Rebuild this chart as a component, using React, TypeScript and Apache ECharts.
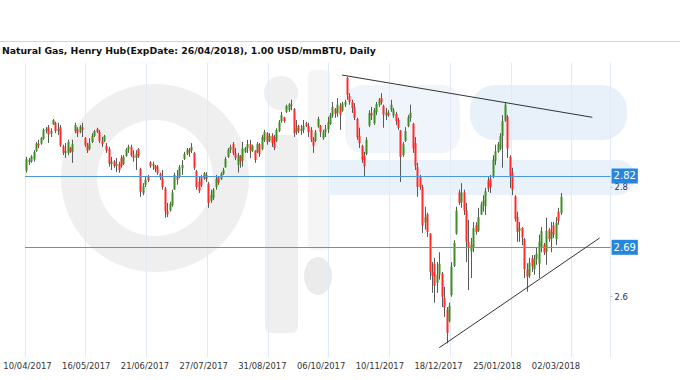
import React, { useEffect, useRef } from 'react';
import * as echarts from 'echarts';

const TITLE = 'Natural Gas, Henry Hub(ExpDate: 26/04/2018), 1.00 USD/mmBTU, Daily';

const tickLabels = [
  '10/04/2017', '16/05/2017', '21/06/2017', '27/07/2017', '31/08/2017',
  '06/10/2017', '10/11/2017', '18/12/2017', '25/01/2018', '02/03/2018',
];

const yTickValues = [2.6, 2.8];

// exchange holidays (no session)
const holidays = [
  '2017-04-14', '2017-05-29', '2017-07-04', '2017-09-04', '2017-11-23',
  '2017-12-25', '2018-01-01', '2018-01-15', '2018-02-19', '2018-03-30',
];
const FIRST_DAY = '2017-04-10';
const SLOT_COUNT = 241; // sessions on the axis, incl. the empty space after the last candle

const levels = [2.82, 2.69];
// trend lines: [session index, price]
const resistanceLine = [[130, 3.004], [233.3, 2.927]];
const supportLine = [[170.4, 2.507], [236.2, 2.707]];

// [open, close, low, high]
const candles: number[][] = [
  [2.830, 2.851, 2.826, 2.855], [2.846, 2.849, 2.840, 2.853], [2.846, 2.856, 2.844, 2.858], [2.850, 2.864, 2.846, 2.867],
  [2.866, 2.879, 2.864, 2.882], [2.879, 2.876, 2.871, 2.886], [2.879, 2.889, 2.877, 2.891], [2.888, 2.904, 2.886, 2.907],
  [2.903, 2.906, 2.898, 2.909], [2.909, 2.896, 2.880, 2.913], [2.897, 2.902, 2.891, 2.907], [2.914, 2.922, 2.913, 2.924],
  [2.917, 2.902, 2.898, 2.919], [2.902, 2.906, 2.895, 2.917], [2.909, 2.876, 2.873, 2.913], [2.874, 2.862, 2.858, 2.877],
  [2.862, 2.866, 2.853, 2.880], [2.862, 2.882, 2.858, 2.886], [2.871, 2.864, 2.862, 2.873], [2.864, 2.878, 2.844, 2.886],
  [2.902, 2.913, 2.898, 2.917], [2.906, 2.898, 2.891, 2.909], [2.900, 2.910, 2.898, 2.913], [2.909, 2.904, 2.891, 2.917],
  [2.889, 2.876, 2.873, 2.891], [2.875, 2.866, 2.862, 2.880], [2.869, 2.880, 2.867, 2.889], [2.882, 2.893, 2.880, 2.898],
  [2.893, 2.902, 2.891, 2.904], [2.906, 2.900, 2.898, 2.908], [2.900, 2.884, 2.880, 2.904], [2.884, 2.878, 2.873, 2.891],
  [2.884, 2.893, 2.882, 2.895], [2.875, 2.866, 2.862, 2.880], [2.869, 2.842, 2.837, 2.873], [2.842, 2.846, 2.831, 2.855],
  [2.847, 2.838, 2.835, 2.849], [2.838, 2.842, 2.827, 2.853], [2.842, 2.831, 2.826, 2.846], [2.853, 2.838, 2.835, 2.858],
  [2.842, 2.855, 2.840, 2.858], [2.857, 2.868, 2.855, 2.871], [2.868, 2.873, 2.862, 2.877], [2.873, 2.858, 2.855, 2.877],
  [2.858, 2.853, 2.846, 2.867], [2.853, 2.860, 2.831, 2.867], [2.869, 2.856, 2.853, 2.871], [2.833, 2.791, 2.782, 2.835],
  [2.788, 2.802, 2.785, 2.807], [2.804, 2.813, 2.800, 2.818], [2.820, 2.812, 2.809, 2.822], [2.845, 2.838, 2.835, 2.847],
  [2.838, 2.842, 2.831, 2.846], [2.838, 2.833, 2.827, 2.840], [2.837, 2.826, 2.822, 2.840], [2.824, 2.817, 2.813, 2.826],
  [2.817, 2.800, 2.795, 2.831], [2.797, 2.756, 2.744, 2.800], [2.756, 2.750, 2.745, 2.771], [2.757, 2.769, 2.755, 2.773],
  [2.767, 2.790, 2.764, 2.795], [2.795, 2.822, 2.795, 2.826], [2.820, 2.813, 2.804, 2.831], [2.818, 2.836, 2.816, 2.840],
  [2.834, 2.840, 2.822, 2.849], [2.851, 2.860, 2.849, 2.864], [2.860, 2.868, 2.858, 2.871], [2.868, 2.864, 2.855, 2.871],
  [2.866, 2.873, 2.862, 2.880], [2.862, 2.835, 2.831, 2.864], [2.829, 2.800, 2.795, 2.831], [2.810, 2.793, 2.789, 2.818],
  [2.818, 2.804, 2.800, 2.822], [2.815, 2.825, 2.813, 2.827], [2.822, 2.815, 2.809, 2.827], [2.806, 2.771, 2.762, 2.809],
  [2.775, 2.786, 2.771, 2.795], [2.780, 2.795, 2.776, 2.798], [2.800, 2.815, 2.795, 2.822], [2.818, 2.808, 2.804, 2.820],
  [2.814, 2.824, 2.813, 2.827], [2.824, 2.831, 2.822, 2.835], [2.836, 2.851, 2.835, 2.855], [2.855, 2.868, 2.853, 2.871],
  [2.868, 2.873, 2.862, 2.877], [2.878, 2.862, 2.858, 2.882], [2.862, 2.853, 2.849, 2.871], [2.840, 2.858, 2.826, 2.862],
  [2.856, 2.846, 2.835, 2.858], [2.848, 2.870, 2.837, 2.882], [2.864, 2.871, 2.862, 2.873], [2.871, 2.878, 2.862, 2.886],
  [2.878, 2.866, 2.853, 2.886], [2.866, 2.875, 2.864, 2.877], [2.866, 2.849, 2.844, 2.867], [2.864, 2.878, 2.862, 2.882],
  [2.878, 2.860, 2.855, 2.880], [2.869, 2.891, 2.867, 2.895], [2.886, 2.900, 2.882, 2.904], [2.898, 2.882, 2.877, 2.900],
  [2.884, 2.893, 2.882, 2.898], [2.893, 2.880, 2.873, 2.898], [2.891, 2.871, 2.867, 2.895], [2.884, 2.904, 2.882, 2.907],
  [2.902, 2.918, 2.900, 2.922], [2.920, 2.931, 2.917, 2.937], [2.927, 2.920, 2.917, 2.928], [2.937, 2.948, 2.935, 2.950],
  [2.940, 2.951, 2.937, 2.953], [2.950, 2.948, 2.940, 2.959], [2.942, 2.898, 2.891, 2.944], [2.900, 2.907, 2.895, 2.922],
  [2.911, 2.902, 2.898, 2.913], [2.902, 2.906, 2.895, 2.913], [2.904, 2.911, 2.898, 2.922], [2.916, 2.911, 2.909, 2.919],
  [2.911, 2.900, 2.891, 2.917], [2.904, 2.886, 2.882, 2.909], [2.886, 2.875, 2.862, 2.891], [2.884, 2.900, 2.882, 2.904],
  [2.910, 2.924, 2.908, 2.928], [2.911, 2.900, 2.891, 2.913], [2.889, 2.900, 2.886, 2.904], [2.900, 2.906, 2.891, 2.913],
  [2.905, 2.918, 2.898, 2.928], [2.915, 2.931, 2.913, 2.935], [2.930, 2.946, 2.926, 2.955], [2.942, 2.933, 2.926, 2.944],
  [2.935, 2.950, 2.928, 2.962], [2.948, 2.932, 2.904, 2.953], [2.939, 2.952, 2.937, 2.955], [2.950, 2.955, 2.946, 2.959],
  [2.999, 2.968, 2.959, 3.001], [2.966, 2.955, 2.950, 2.971], [2.955, 2.944, 2.935, 2.959], [2.946, 2.926, 2.922, 2.953],
  [2.924, 2.891, 2.886, 2.926], [2.893, 2.880, 2.871, 2.908], [2.875, 2.849, 2.844, 2.877], [2.857, 2.838, 2.820, 2.864],
  [2.860, 2.886, 2.858, 2.891], [2.912, 2.935, 2.909, 2.940], [2.935, 2.930, 2.922, 2.946], [2.916, 2.940, 2.913, 2.944],
  [2.936, 2.951, 2.931, 2.955], [2.949, 2.959, 2.946, 2.962], [2.962, 2.954, 2.950, 2.971], [2.948, 2.932, 2.908, 2.950],
  [2.930, 2.936, 2.922, 2.944], [2.935, 2.931, 2.928, 2.940], [2.940, 2.950, 2.937, 2.959], [2.930, 2.940, 2.926, 2.944],
  [2.933, 2.920, 2.913, 2.937], [2.922, 2.908, 2.904, 2.926], [2.903, 2.855, 2.809, 2.904], [2.858, 2.878, 2.855, 2.882],
  [2.884, 2.902, 2.882, 2.909], [2.911, 2.927, 2.909, 2.931], [2.926, 2.935, 2.919, 2.950], [2.915, 2.870, 2.862, 2.917],
  [2.880, 2.838, 2.831, 2.891], [2.836, 2.800, 2.782, 2.844], [2.818, 2.800, 2.795, 2.822], [2.800, 2.730, 2.716, 2.804],
  [2.735, 2.745, 2.722, 2.764], [2.750, 2.718, 2.709, 2.753], [2.715, 2.645, 2.631, 2.716], [2.645, 2.638, 2.607, 2.663],
  [2.660, 2.620, 2.589, 2.671], [2.625, 2.640, 2.607, 2.663], [2.640, 2.660, 2.631, 2.681], [2.642, 2.600, 2.581, 2.645],
  [2.598, 2.580, 2.563, 2.618], [2.576, 2.534, 2.515, 2.581], [2.556, 2.583, 2.553, 2.589], [2.603, 2.655, 2.600, 2.663],
  [2.656, 2.698, 2.654, 2.703], [2.715, 2.757, 2.713, 2.764], [2.790, 2.771, 2.767, 2.795], [2.772, 2.790, 2.762, 2.807],
  [2.790, 2.757, 2.749, 2.795], [2.758, 2.700, 2.663, 2.771], [2.700, 2.690, 2.612, 2.740], [2.683, 2.695, 2.634, 2.707],
  [2.690, 2.725, 2.681, 2.736], [2.730, 2.718, 2.713, 2.736], [2.720, 2.745, 2.718, 2.762], [2.750, 2.768, 2.749, 2.773],
  [2.768, 2.775, 2.755, 2.785], [2.765, 2.792, 2.749, 2.798], [2.812, 2.797, 2.791, 2.818], [2.815, 2.800, 2.789, 2.822],
  [2.818, 2.850, 2.816, 2.858], [2.848, 2.865, 2.840, 2.877], [2.864, 2.878, 2.862, 2.882], [2.870, 2.893, 2.867, 2.898],
  [2.893, 2.920, 2.835, 2.931], [2.921, 2.950, 2.919, 2.955], [2.928, 2.870, 2.853, 2.931], [2.855, 2.820, 2.798, 2.858],
  [2.826, 2.795, 2.785, 2.835], [2.783, 2.742, 2.737, 2.785], [2.745, 2.718, 2.700, 2.755], [2.720, 2.725, 2.700, 2.736],
  [2.725, 2.708, 2.694, 2.727], [2.705, 2.650, 2.634, 2.707], [2.650, 2.636, 2.609, 2.661], [2.638, 2.662, 2.634, 2.671],
  [2.670, 2.655, 2.645, 2.676], [2.650, 2.668, 2.640, 2.676], [2.668, 2.678, 2.658, 2.689], [2.660, 2.700, 2.634, 2.713],
  [2.690, 2.720, 2.681, 2.727], [2.695, 2.680, 2.676, 2.698], [2.682, 2.720, 2.658, 2.744], [2.722, 2.705, 2.700, 2.725],
  [2.705, 2.718, 2.681, 2.736], [2.730, 2.713, 2.707, 2.736], [2.705, 2.735, 2.694, 2.745], [2.755, 2.738, 2.731, 2.762],
  [2.752, 2.782, 2.749, 2.789],
];

const UP = '#3d8f22';
const DOWN = '#ff2a2a';
const WICK = '#5a5a5a';
const GRID_LINE = '#e2ebf5';
const LEVEL_BLUE = '#4d97e0';
const LABEL_BLUE = '#2686dd';
const FONT = 'DejaVu Sans';

function sessionDates(): string[] {
  const out: string[] = [];
  const d = new Date(FIRST_DAY + 'T00:00:00Z');
  while (out.length < SLOT_COUNT) {
    const iso = d.toISOString().slice(0, 10);
    const wd = d.getUTCDay();
    if (wd !== 0 && wd !== 6 && holidays.indexOf(iso) < 0) {
      out.push(iso.slice(8, 10) + '/' + iso.slice(5, 7) + '/' + iso.slice(0, 4));
    }
    d.setUTCDate(d.getUTCDate() + 1);
  }
  return out;
}

export default function App() {
  const ref = useRef<HTMLDivElement>(null);
  useEffect(() => {
    if (!ref.current) return;
    const chart = echarts.init(ref.current, undefined, { renderer: 'svg' });
    const dates = sessionDates();
    const seriesData = candles.map((c, i) => [i, c[0], c[1], c[2], c[3]]);

    const trendStyle = { color: '#333333', width: 1, type: 'solid' as const };

    const option: any = {
      animation: false,
      backgroundColor: '#ffffff',
      textStyle: { fontFamily: FONT },
      title: {
        text: TITLE,
        left: 2,
        top: 46,
        padding: 0,
        textStyle: { fontFamily: FONT, fontWeight: 'bold', fontSize: 9.3, color: '#111' },
      },
      graphic: [
        { type: 'line', silent: true, z: -5, shape: { x1: 0, y1: 41.5, x2: 680, y2: 41.5 }, style: { stroke: '#d4d4d4', lineWidth: 1 } },
        // faint logo watermark
        { type: 'ring', silent: true, z: -10, shape: { cx: 155, cy: 178, r: 94, r0: 58 }, style: { fill: '#efefef' } },
        { type: 'circle', silent: true, z: -10, shape: { cx: 281, cy: 93, r: 17 }, style: { fill: '#efefef' } },
        { type: 'rect', silent: true, z: -10, shape: { x: 265, y: 135, width: 33, height: 198, r: 6 }, style: { fill: '#efefef' } },
        { type: 'rect', silent: true, z: -10, shape: { x: 308, y: 70, width: 22, height: 180, r: 6 }, style: { fill: '#f5f5f5' } },
        { type: 'ellipse', silent: true, z: -10, shape: { cx: 318, cy: 276, rx: 14, ry: 19 }, style: { fill: '#ebebeb' } },
        { type: 'rect', silent: true, z: -10, shape: { x: 345, y: 85, width: 115, height: 68, r: 18 }, style: { fill: '#f0f5fb' } },
        { type: 'rect', silent: true, z: -10, shape: { x: 470, y: 85, width: 157, height: 55, r: 25 }, style: { fill: '#e8f0f9' } },
        { type: 'rect', silent: true, z: -10, shape: { x: 330, y: 160, width: 305, height: 35, r: [0, 17, 17, 0] }, style: { fill: '#e9f1fa' } },
      ],
      grid: [
        { left: 25, right: 69.4, top: 63, bottom: 23 },
        { left: 27.5, width: 528.5, top: 63, bottom: 23 },
      ],
      xAxis: [
        {
          type: 'category', gridIndex: 0, data: dates, boundaryGap: true,
          axisLine: { show: false }, axisTick: { show: false }, axisLabel: { show: false },
          splitLine: { show: true, interval: 24, lineStyle: { color: GRID_LINE, width: 1 } },
        },
        {
          type: 'category', gridIndex: 1, data: tickLabels, boundaryGap: false,
          axisLine: { show: false }, axisTick: { show: false }, splitLine: { show: false },
          axisLabel: { interval: 0, fontSize: 8.4, color: '#333', margin: 5, fontFamily: FONT },
        },
      ],
      yAxis: [
        {
          type: 'value', gridIndex: 0, position: 'right', min: 2.49, max: 3.026, scale: true,
          axisLine: { show: true, lineStyle: { color: GRID_LINE } },
          axisTick: { show: true, customValues: yTickValues, length: 2, lineStyle: { color: '#bbb' } },
          axisLabel: {
            customValues: yTickValues, fontSize: 8.4, color: '#333', margin: 4, fontFamily: FONT,
            formatter: (v: number) => v.toFixed(1),
          },
          splitLine: { show: false },
        },
        { type: 'value', gridIndex: 1, show: false },
      ],
      series: [
        {
          type: 'custom',
          xAxisIndex: 0, yAxisIndex: 0,
          data: seriesData,
          encode: { x: 0, y: [1, 2, 3, 4] },
          renderItem: (params: any, api: any) => {
            const i = api.value(0);
            const o = api.value(1), c = api.value(2), l = api.value(3), h = api.value(4);
            const pO = api.coord([i, o]);
            const pC = api.coord([i, c]);
            const pL = api.coord([i, l]);
            const pH = api.coord([i, h]);
            const cx = Math.round(pO[0]);
            const top = Math.min(pO[1], pC[1]);
            const height = Math.max(1, Math.abs(pO[1] - pC[1]));
            return {
              type: 'group',
              children: [
                { type: 'line', shape: { x1: cx + 0.5, y1: pH[1], x2: cx + 0.5, y2: pL[1] }, style: { stroke: WICK, lineWidth: 1 } },
                { type: 'rect', shape: { x: cx - 0.5, y: top, width: 2, height }, style: { fill: c >= o ? UP : DOWN } },
              ],
            };
          },
          markLine: {
            silent: true,
            symbol: ['none', 'none'],
            animation: false,
            data: [
              ...levels.map((v) => ({
                yAxis: v,
                lineStyle: { color: LEVEL_BLUE, width: 1, type: 'solid' },
                label: {
                  show: true, position: 'end', distance: 1,
                  formatter: () => v.toFixed(2),
                  color: '#fff', backgroundColor: LABEL_BLUE, padding: [3, 2, 2, 2],
                  fontSize: 10, fontFamily: FONT,
                },
              })),
              [
                { coord: resistanceLine[0], lineStyle: trendStyle, label: { show: false } },
                { coord: resistanceLine[1] },
              ],
              [
                { coord: supportLine[0], lineStyle: trendStyle, label: { show: false } },
                { coord: supportLine[1] },
              ],
            ],
          },
        },
      ],
    };
    chart.setOption(option);
    return () => chart.dispose();
  }, []);

  return <div ref={ref} style={{ position: 'absolute', left: 0, top: 0, width: 680, height: 380 }} />;
}
